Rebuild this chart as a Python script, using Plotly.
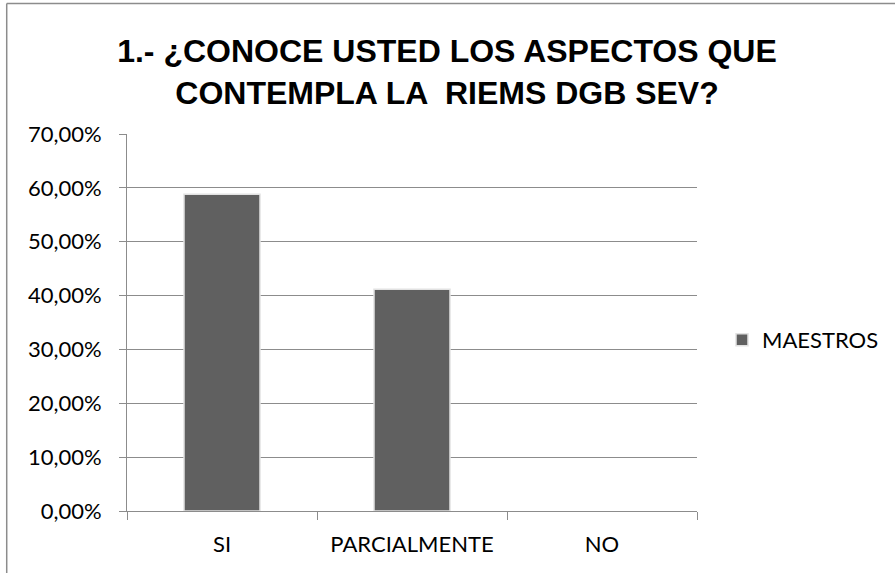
import plotly.graph_objects as go

categories = ["SI", "PARCIALMENTE", "NO"]
maestros = [0.5882, 0.4118, 0.0]
series_name = "MAESTROS"
title_lines = ["1.- ¿CONOCE USTED LOS ASPECTOS QUE", "CONTEMPLA LA  RIEMS DGB SEV?"]
y_ticks = [0, 0.1, 0.2, 0.3, 0.4, 0.5, 0.6, 0.7]

W, H = 895, 573
L, R, T, B = 127, 197, 134, 62
PW, PH = W - L - R, H - T - B

fig = go.Figure()
fig.add_trace(go.Bar(
    x=categories, y=maestros, name=series_name,
    marker=dict(color="#606060",
                line=dict(color="#e2e2e2", width=[1.5 if v > 0 else 0 for v in maestros])),
    width=0.4, showlegend=True,
))

fig.update_layout(
    width=W, height=H,
    paper_bgcolor="white", plot_bgcolor="white",
    margin=dict(l=L, r=R, t=T, b=B),
    separators=",.",
    title=dict(
        text="<b>" + "<br>".join(title_lines) + "</b>",
        x=447 / W, xanchor="center", xref="container",
        y=1 - 62 / H, yanchor="middle", yref="container",
        font=dict(family="Liberation Sans, Arial, sans-serif", size=32, color="black"),
    ),
    font=dict(family="Lato, Carlito, Calibri, sans-serif", size=22, color="black"),
    legend=dict(
        x=(722 - L) / PW, xanchor="left", y=(H - B - 340) / PH, yanchor="middle",
        font=dict(size=22), bgcolor="rgba(0,0,0,0)",
    ),
)
fig.update_yaxes(
    range=[0, 0.7], tickvals=y_ticks, tickformat=".2%",
    showgrid=True, gridcolor="#8c8c8c", gridwidth=1,
    showline=True, linecolor="#8c8c8c", linewidth=1,
    ticks="outside", ticklen=7, tickcolor="#8c8c8c",
    zeroline=False, ticklabelstandoff=13,
)
fig.update_xaxes(
    showline=True, linecolor="#8c8c8c", linewidth=1,
    ticks="outside", ticklen=8, tickcolor="#8c8c8c",
    tickson="boundaries", ticklabelstandoff=14,
)
# chart frame (left and top edges visible in the crop)
fx = (6.5 - L) / PW
fy = (H - B - 3.5) / PH
fig.add_shape(type="line", xref="paper", yref="paper",
              x0=fx, x1=fx, y0=-B / PH - 0.05, y1=fy,
              line=dict(color="#8c8c8c", width=1.5))
fig.add_shape(type="line", xref="paper", yref="paper",
              x0=fx, x1=(W - L) / PW + 0.05, y0=fy, y1=fy,
              line=dict(color="#8c8c8c", width=1.5))

fig.write_html("out.html", config={"displayModeBar": False},
               post_script="document.body.style.margin='0';")
